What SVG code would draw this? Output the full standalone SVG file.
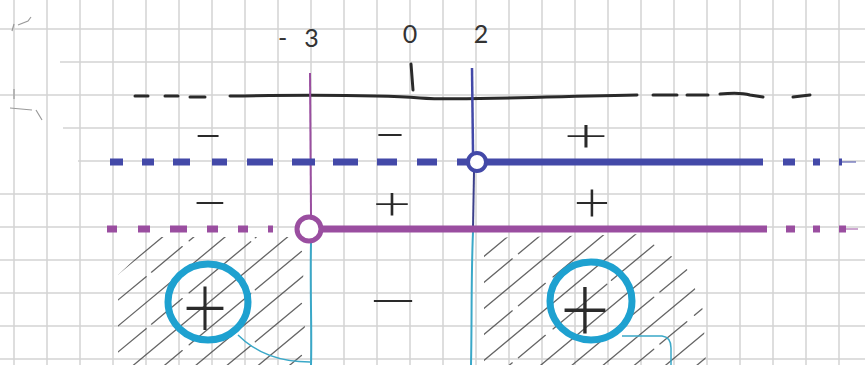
<svg xmlns="http://www.w3.org/2000/svg" width="865" height="365" viewBox="0 0 865 365">
<style>
.grid{stroke:#d3d3d3;stroke-width:1.5;fill:none}
.axis{stroke:#2a2a2a;stroke-width:3;fill:none;stroke-linecap:round}
.blue{stroke:#4349a8;fill:none}
.purple{stroke:#9a4ea0;fill:none}
.cyan{stroke:#3aa8c8;fill:none}
.ring{stroke:#1ea1d0;stroke-width:7;fill:none}
.hatch{stroke:#4a4a4a;stroke-width:1.3;fill:none;opacity:0.85;stroke-linecap:round}
.sign{font-family:"Lato","Roboto","DejaVu Sans",sans-serif;font-weight:300;font-size:56px;fill:#2a2a2a;text-anchor:middle;dominant-baseline:central}
.num{font-family:"Lato","Roboto","DejaVu Sans",sans-serif;font-weight:400;font-size:25px;fill:#333}
.scrib{stroke:#9a9a9a;stroke-width:1.2;fill:none}
</style>
<defs>
<clipPath id="clipL"><polygon points="118,275 158,237 302,237 306,365 118,365"/></clipPath>
<clipPath id="clipR"><polygon points="484,238 645,234 688,270 703,310 706,365 484,365"/></clipPath>
</defs>
<rect width="865" height="365" fill="#ffffff"/>
<g id="grid" class="grid">
<path d="M14,0V365M47,0V365M80,0V365M113,0V365M146,0V365M179,0V365M212,0V365M245,0V365M278,0V365M311,0V365M344,0V365M377,0V365M410,0V365M443,0V365M476,0V365M509,0V365M542,0V365M575,0V365M608,0V365M641,0V365M674,0V365M707,0V365M740,0V365M773,0V365M806,0V365M839,0V365"/>
<path d="M0,-4H865M0,29H865M60,62H865M0,95H865M63,128H865M78,161H865M0,194H865M0,227H865M0,260H865M0,293H865M0,326H865M0,359H865"/>
</g>
<g id="scribbles" class="scrib">
<path d="M12,31 L14,24 M18,25 L28,21 L31,17"/>
<path d="M14,89 L14,99 M10,108 L32,110 M36,110 L42,120"/>
</g>
<g id="axis">
<path class="axis" d="M135,96H148M165,96H178M190,97H205"/>
<path class="axis" d="M230,96 C300,95 380,95 420,98 S520,97 637,95"/>
<path class="axis" d="M653,95H677M687,95H708M720,94 Q740,92 750,95 L763,97M793,97 L810,95"/>
<path class="axis" stroke-width="2.5" d="M411,64 L413,90"/>
</g>
<g id="labels">
<text class="num" x="278" y="47" letter-spacing="17">-3</text>
<text class="num" x="410" y="43" text-anchor="middle">0</text>
<text class="num" x="481" y="43" text-anchor="middle">2</text>
</g>
<g id="hatching" class="hatch">
<g clip-path="url(#clipL)">
<path d="M100,289L320,106M100,341L320,158M100,393L320,210M100,445L320,262M100,497L320,314"/>
<path stroke-dasharray="60 7 40 9 80 6" d="M100,315L320,132M100,367L320,184M100,419L320,236M100,471L320,288M100,523L320,340"/>
</g>
<g clip-path="url(#clipR)">
<path d="M470,268L720,60M470,320L720,112M470,372L720,164M470,424L720,216M470,476L720,268M470,528L720,320"/>
<path stroke-dasharray="55 8 35 10 70 6" d="M470,294L720,86M470,346L720,138M470,398L720,190M470,450L720,242M470,502L720,294M470,554L720,346"/>
</g>
</g>
<g id="verticals">
<path class="purple" stroke-width="2" d="M310,73 L311,216"/>
<path class="cyan" stroke-width="2" d="M311,243 C310,290 312,330 311,365"/>
<path class="blue" stroke-width="2.5" d="M472,68 L473,152"/>
<path stroke="#3b3f8a" stroke-width="2" fill="none" d="M474,172 L473,229"/>
<path class="cyan" stroke-width="2" d="M473,232 C471,280 472,320 471,365"/>
</g>
<g id="row-blue">
<path class="blue" stroke-width="7" d="M110,162H123M142,162H154M173,162H190M212,162H227M247,162H273M292,162H315M333,162H358M377,162H397M417,162H437M457,162H467"/>
<path class="blue" stroke-width="7" d="M486,162H763"/>
<path class="blue" stroke-width="7" d="M783,162H795M813,162H820M839,162H842"/>
<path class="blue" stroke-width="1" d="M842,162H856"/>
<circle cx="477" cy="162" r="9" fill="#fff" stroke="#4349a8" stroke-width="4"/>
</g>
<g id="row-purple">
<path class="purple" stroke-width="7" d="M107,229H117M138,229H150M170,229H187M207,229H218M238,229H248M268,229H273"/>
<path class="purple" stroke-width="7" d="M321,229H767"/>
<path class="purple" stroke-width="7" d="M786,229H795M813,229H820M839,229H846"/>
<path class="purple" stroke-width="1" d="M846,229H858"/>
<circle cx="309" cy="229" r="12" fill="#fff" stroke="#9a4ea0" stroke-width="5"/>
</g>
<g id="signs">
<text class="sign" transform="translate(208,133) scale(0.9,1)">−</text>
<text class="sign" transform="translate(390,132) scale(1,1)">−</text>
<text class="sign" transform="translate(586,134) scale(1.4,0.8)">+</text>
<text class="sign" transform="translate(210,200) scale(1.15,1)">−</text>
<text class="sign" transform="translate(392,202) scale(1.2,0.8)">+</text>
<text class="sign" transform="translate(592,200) scale(1.15,1)">+</text>
<text class="sign" transform="translate(393,298) scale(1.65,1)">−</text>
</g>
<g id="region-left">
<ellipse class="ring" cx="208" cy="302" rx="40" ry="38"/>
<text class="sign" transform="translate(205,303) scale(1.4,1.6)">+</text>
</g>
<g id="region-right">
<ellipse class="ring" cx="591" cy="301" rx="41" ry="39"/>
<text class="sign" transform="translate(585,305) scale(1.55,1.7)">+</text>
</g>
<g id="connectors" class="cyan" stroke-width="1.5">
<path d="M238,335 Q265,362 310,362"/>
<path d="M622,336 L662,336 Q671,337 671,348 L671,365"/>
</g>
</svg>
